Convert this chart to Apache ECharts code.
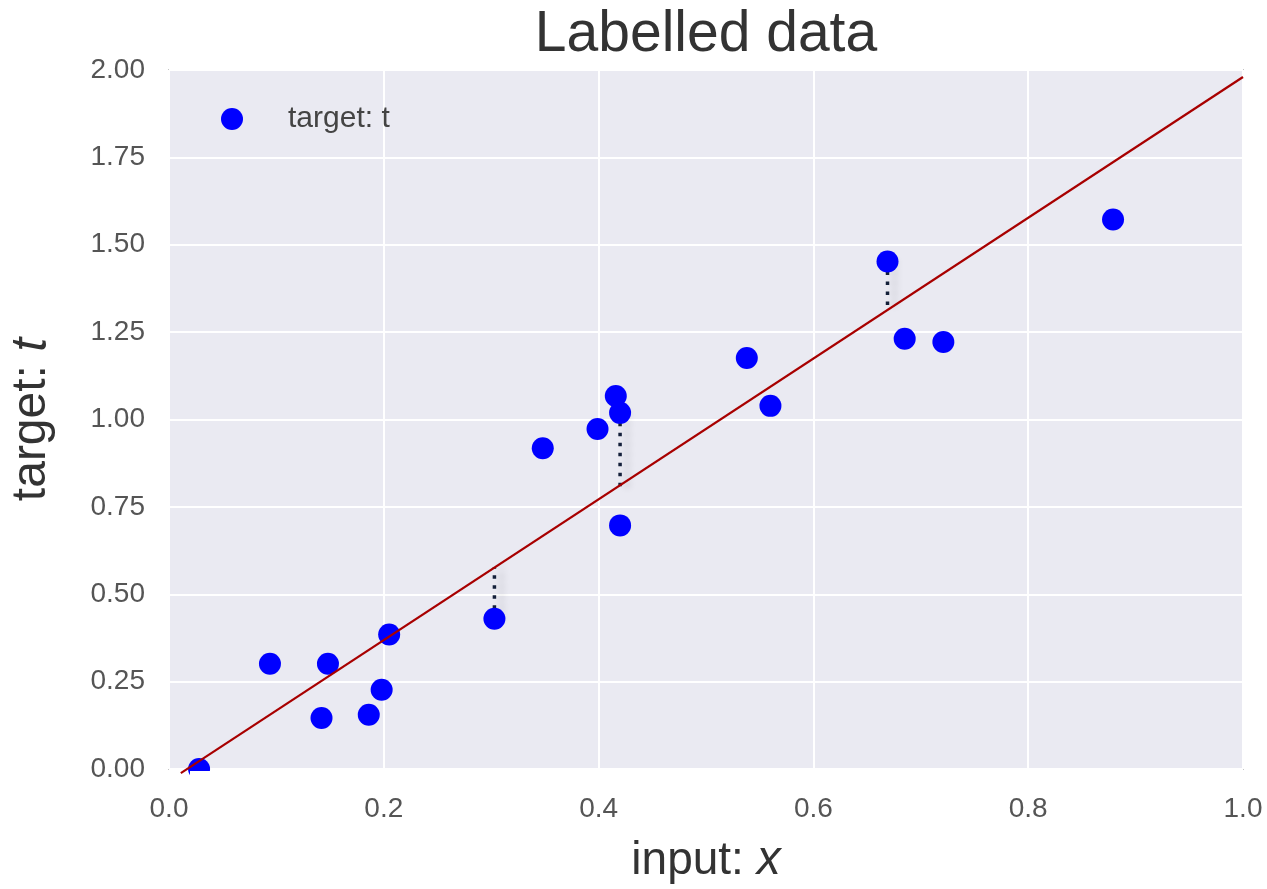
<!DOCTYPE html>
<html>
<head>
<meta charset="utf-8">
<title>Labelled data</title>
<script src="https://cdn.jsdelivr.net/npm/echarts@6/dist/echarts.min.js"></script>
<style>
  html, body { margin: 0; padding: 0; background: #fff; }
  #main { width: 1267px; height: 889px; }
</style>
</head>
<body>
<div id="main"></div>
<script>
// labelled data points
var inputX = [0.028, 0.094, 0.148, 0.142, 0.186, 0.198, 0.205, 0.303, 0.348, 0.399,
              0.416, 0.420, 0.420, 0.538, 0.560, 0.669, 0.685, 0.721, 0.879]
var targetT = [0.0, 0.301, 0.301, 0.146, 0.155, 0.227, 0.385, 0.430, 0.918, 0.973,
               1.067, 1.019, 0.697, 1.176, 1.039, 1.452, 1.231, 1.222, 1.572]

// fitted line (red)
var fitX = [0.011, 1.0]
var fitT = [-0.012, 1.98]

// dotted residual segments
var resX = [0.303, 0.420, 0.669]
var resFrom = [0.430, 1.019, 1.452]
var resTo = [0.577, 0.806, 1.317]

var chart = echarts.init(document.getElementById('main'))

var pts = []
for (var i = 0; i < inputX.length; i++) {
    pts.push([inputX[i], targetT[i]])
}
var fitPts = []
for (var j = 0; j < fitX.length; j++) {
    fitPts.push([fitX[j], fitT[j]])
}

var series = [
    {
        name: 'fit',
        type: 'line',
        data: fitPts,
        symbol: 'none',
        clip: false,
        z: 5,
        lineStyle: { color: '#a80000', width: 2.2 },
        silent: true
    },
    {
        name: 'target: t',
        type: 'scatter',
        data: pts,
        symbol: 'circle',
        symbolSize: 22,
        clip: true,
        z: 4,
        itemStyle: { color: '#0000ff', opacity: 1 }
    }
]

for (var k = 0; k < resX.length; k++) {
    series.push({
        name: 'res' + k,
        type: 'line',
        data: [[resX[k], resFrom[k]], [resX[k], resTo[k]]],
        symbol: 'none',
        z: 2,
        silent: true,
        lineStyle: {
            color: '#14203a',
            width: 3.5,
            type: [3.5, 6.5],
            shadowColor: 'rgba(0,0,0,0.3)',
            shadowBlur: 7,
            shadowOffsetX: 7
        }
    })
}

var tickFont = 'Liberation Sans'

var option = {
    backgroundColor: '#ffffff',
    animation: false,
    title: {
        text: 'Labelled data',
        left: 701,
        top: 2,
        textAlign: 'center',
        textStyle: {
            fontFamily: tickFont,
            fontSize: 57,
            fontWeight: 'normal',
            color: '#333333'
        }
    },
    legend: {
        data: ['target: t'],
        left: 216,
        top: 99,
        icon: 'circle',
        itemWidth: 22,
        itemHeight: 22,
        textStyle: {
            fontFamily: tickFont,
            fontSize: 30,
            color: '#444444',
            padding: [0, 0, 0, 40]
        }
    },
    grid: {
        left: 169,
        right: 24,
        top: 70,
        bottom: 120,
        outerBoundsMode: 'none',
        show: true,
        backgroundColor: '#eaeaf2',
        borderColor: '#c4c4c4',
        borderWidth: 2
    },
    // plot frame hides the lower half of the point lying on t = 0 (like the original)
    graphic: [{
        type: 'rect',
        shape: { x: 190, y: 771, width: 24, height: 12 },
        style: { fill: '#ffffff' },
        z: 4.5,
        silent: true
    }],
    xAxis: {
        type: 'value',
        min: 0,
        max: 1,
        interval: 0.2,
        name: '{n|input: }{i|x}',
        nameLocation: 'middle',
        nameGap: 68,
        nameTextStyle: {
            rich: {
                n: { fontFamily: tickFont, fontSize: 46, color: '#333333' },
                i: { fontFamily: tickFont, fontSize: 48, fontStyle: 'italic', color: '#333333' }
            }
        },
        axisLine: { show: false },
        axisTick: { show: false },
        axisLabel: {
            margin: 26,
            fontFamily: tickFont,
            fontSize: 28,
            color: '#555555',
            formatter: function (v) { return v.toFixed(1) }
        },
        splitLine: { show: true, lineStyle: { color: '#ffffff', width: 2 } }
    },
    yAxis: {
        type: 'value',
        min: 0,
        max: 2,
        interval: 0.25,
        name: '{n|target: }{i|t}',
        nameLocation: 'middle',
        nameGap: 112,
        nameRotate: 90,
        nameTextStyle: {
            rich: {
                n: { fontFamily: tickFont, fontSize: 48, color: '#333333' },
                i: { fontFamily: tickFont, fontSize: 50, fontStyle: 'italic', color: '#333333' }
            }
        },
        axisLine: { show: false },
        axisTick: { show: false },
        axisLabel: {
            margin: 24,
            fontFamily: tickFont,
            fontSize: 28,
            color: '#555555',
            formatter: function (v) { return v.toFixed(2) }
        },
        splitLine: { show: true, lineStyle: { color: '#ffffff', width: 2 } }
    },
    series: series
}

chart.setOption(option)
</script>
</body>
</html>
